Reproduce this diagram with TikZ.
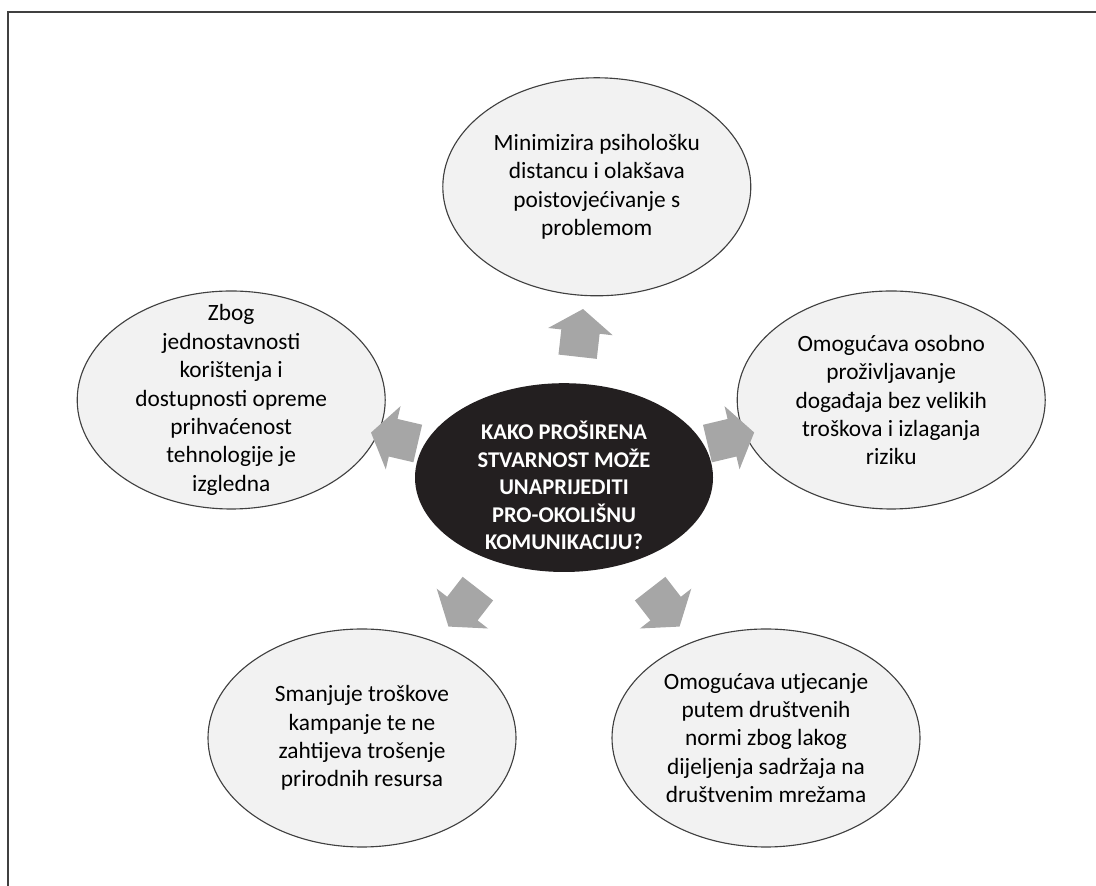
\documentclass[tikz,border=0pt]{standalone}
\usepackage{fontspec}
\setmainfont{Carlito}
\usetikzlibrary{%
		shapes.geometric%
		,shapes.arrows%
	}
\definecolor{mittegrau}{HTML}{231F20}
\definecolor{blasegrau}{HTML}{F2F2F2}
\definecolor{pfeilgrau}{HTML}{A6A6A6}

\begin{document}
\begin{tikzpicture}[
		blase/.style={ellipse, draw=black!75, fill=blasegrau, line width=0.8pt, minimum width=7.7cm, minimum height=5.45cm},
		blasentext/.style={align=center, inner sep=0pt, font=\fontsize{16.6}{20.2}\selectfont},
		mitte/.style={ellipse, fill=mittegrau, minimum width=7.45cm, minimum height=4.72cm},
		mittentext/.style={align=center, inner sep=0pt, text=white, font=\bfseries\fontsize{16}{19.6}\selectfont},
		pfeil/.style={single arrow, fill=pfeilgrau, inner xsep=0pt, inner ysep=0.475cm, minimum height=1.2cm, single arrow head extend=0.33cm, single arrow tip angle=110, sloped, allow upside down}
	]
	\useasboundingbox (0,0) rectangle (27.4,22.15);
	\draw[line width=1.4pt, black!75] (0.2,0) -- (0.2,21.85) -- (27.4,21.85);
	
	% Mitte
	\node[mitte] (m) at (14.1,10.21) {};
	\node[mittentext] (mt) at ([yshift=-0.2cm]m.center) {KAKO PROŠIRENA\\STVARNOST MOŽE\\UNAPRIJEDITI\\PRO-OKOLIŠNU\\KOMUNIKACIJU?};
	
	% Blasen rundherum
	\node[blase] (o) at (14.92,17.48) {};
	\node[blasentext] (ot) at (o) {Minimizira psihološku\\distancu i olakšava\\poistovjećivanje s\\problemom};
	\node[blase] (l) at (5.78,12.15) {};
	\node[blasentext] (lt) at (l) {Zbog\\jednostavnosti\\korištenja i\\dostupnosti opreme\\prihvaćenost\\tehnologije je\\izgledna};
	\node[blase] (r) at (22.28,12.15) {};
	\node[blasentext] (rt) at (r) {Omogućava osobno\\proživljavanje\\događaja bez velikih\\troškova i izlaganja\\riziku};
	\node[blase] (ul) at (9.05,3.7) {};
	\node[blasentext] (ult) at (ul) {Smanjuje troškove\\kampanje te ne\\zahtijeva trošenje\\prirodnih resursa};
	\node[blase] (ur) at (19.15,3.7) {};
	\node[blasentext] (urt) at (ur) {Omogućava utjecanje\\putem društvenih\\normi zbog lakog\\dijeljenja sadržaja na\\društvenim mrežama};
	
	\foreach \ziel in {o,l,r,ul,ur} {
		\path (m) -- (\ziel) node[pfeil, pos=.5] {};
	}
\end{tikzpicture}
\end{document}
